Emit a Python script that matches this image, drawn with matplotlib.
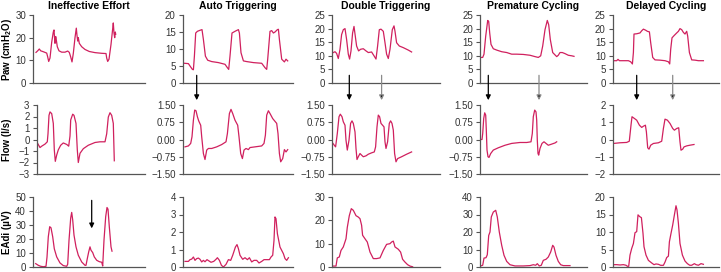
import numpy as np
import matplotlib.pyplot as plt

plt.rcParams['font.family'] = ['Liberation Sans', 'DejaVu Sans']
plt.rcParams['mathtext.default'] = 'regular'

titles = ['Ineffective Effort', 'Auto Triggering', 'Double Triggering',
          'Premature Cycling', 'Delayed Cycling']
ylabels = ['Paw (cmH$_2$O)', 'Flow (l/s)', 'EAdi (\u00b5V)']

# ---- Ineffective Effort ----
ie_paw_t = [3, 4.7, 6.3, 7.7, 10.3, 13.7, 14.7, 15.7, 17, 18.7, 20.3, 21, 21.7, 22, 22.7, 23.3,
            24.3, 26, 28.7, 32, 34.7, 36.3, 37.7, 39, 40.3, 42, 43.3, 44, 44.7, 45.3, 46.3,
            48.7, 52, 56.3, 62, 68.7, 73, 73.7, 74.7, 76, 78, 79.7, 80.3, 81, 81.7, 82.3, 82.7]
ie_paw = [13.5, 14.2, 15, 14.2, 13.8, 13.2, 11.5, 9.5, 11, 18, 22.5, 23.4, 19, 17.5, 20.5, 19,
          16, 14.2, 13.6, 13.6, 14.1, 13.5, 11.5, 9.3, 13, 20, 24.2, 21, 18.5, 20, 17.5,
          16, 14.8, 13.9, 13.4, 13.1, 13, 11, 9.5, 10.5, 17, 24, 26.5, 22, 20, 22.5, 21.5]
ie_flow_t = [3, 4.7, 7, 8.7, 12, 14.3, 15, 16, 17, 18.7, 20.3, 21.3, 22.3, 23.7, 25.3, 27.7,
             30.3, 33.7, 35.7, 37, 37.7, 39.7, 41, 43, 44.3, 45.3, 47, 50.3, 55.3, 62, 67, 72,
             73.7, 75.3, 77, 78.7, 80.3, 81.3]
ie_flow = [-0.2, -0.35, -0.7, -0.58, -0.4, -0.2, 0.5, 2.1, 2.4, 2.25, 1.4, -0.9, -1.9, -1.35,
           -0.9, -0.5, -0.3, -0.43, -0.58, 0.3, 1.7, 2.2, 2.1, 1.4, -0.9, -2.0, -1.2, -0.8,
           -0.5, -0.26, -0.2, -0.2, 0.5, 1.95, 2.33, 2.1, 1.4, -1.85]
ie_eadi_t = [2.7, 5.3, 7.7, 10.3, 13, 14, 15.3, 16.7, 18, 19.7, 21.3, 23.7, 27, 30.3, 33.7,
             34.7, 36, 37.7, 38.7, 39.7, 41, 43, 45.3, 48.7, 52, 53, 54.3, 55.7, 57, 58,
             59.7, 61.3, 63.7, 66.3, 68.7, 69.7, 71, 72.7, 74, 75, 76.3, 78, 79]
ie_eadi = [2.4, 1.2, 0.5, 0.2, 0.5, 7, 21.6, 28.8, 28, 21.6, 13, 7.2, 2.9, 1, 0.5,
           2, 19, 35, 39, 33.6, 22.8, 14.4, 8.4, 3.6, 1.2, 1.2, 6, 10.8, 14.4, 12,
           10.3, 7.2, 4.8, 3.8, 3.4, 0.7, 19.2, 36, 42.5, 41.3, 28.8, 14.4, 11.3]

# ---- Auto Triggering ----
at_paw_t = [1.7, 5.7, 7.3, 9.7, 10.7, 11.7, 13, 14.7, 17.3, 19.3, 20.7, 22.7, 25, 29, 35.7,
            42.3, 44.7, 46, 47.3, 49.3, 52.3, 55.7, 56.7, 58.3, 60.7, 64, 70.7, 79, 82.3,
            84, 85, 87.3, 89, 90.7, 92.3, 94.7, 95.7, 96.7, 99, 101.7, 103.3, 105]
at_paw = [5.8, 5.7, 5, 4, 3.9, 7.9, 14.7, 15.2, 15.5, 15.7, 12.8, 7.9, 6.7, 6.3, 6,
          5.5, 4.5, 4, 7.9, 14.7, 15.2, 15.7, 14.7, 8.9, 6.5, 6.3, 6, 5.8, 4.5,
          4, 7, 15.2, 15.4, 14.7, 15, 15.7, 15.8, 12.8, 7, 6.2, 7, 6.5]
at_flow_t = [2.3, 5.7, 8, 9.3, 10.7, 12, 13.3, 14.7, 16, 18, 19, 20.7, 22.3, 24, 25.7, 29,
             34, 39, 43.3, 44.7, 46.7, 48.3, 50, 52.3, 55, 56.3, 58, 59.7, 61.3, 63.3, 65.7,
             67.3, 72.3, 79, 81.3, 82.7, 84, 85.7, 87.3, 90, 94, 95.3, 96.7, 98, 100, 101.7,
             103.3, 105]
at_flow = [-0.32, -0.28, -0.17, 0.12, 0.84, 1.28, 1.25, 0.99, 0.81, 0.62, 0.12, -0.61, -0.87,
           -0.46, -0.39, -0.39, -0.32, -0.22, -0.1, 0.26, 1.13, 1.31, 1.13, 0.84, 0.62, 0.12,
           -0.61, -0.83, -0.46, -0.39, -0.44, -0.35, -0.32, -0.28, -0.17, 0.19, 1.06, 1.25,
           1.13, 0.91, 0.7, 0.26, -0.61, -0.97, -0.83, -0.44, -0.54, -0.44]
at_eadi_t = [2.3, 5.7, 7.3, 9, 10.7, 12.3, 14, 15.7, 17.3, 19, 20.7, 22.3, 24.3, 28.3, 31,
             33.3, 34.7, 36.7, 38.7, 40.7, 43.3, 45.7, 48, 50, 52.7, 54.3, 55.7, 57.3, 60,
             62.3, 64.7, 66.7, 69, 71.3, 74, 76.3, 79, 81.3, 84, 86.7, 88.3, 90, 91.3, 92.3,
             93.3, 94.7, 97.3, 100.7, 102.3, 104, 105.7]
at_eadi = [0.32, 0.32, 0.42, 0.45, 0.57, 0.38, 0.48, 0.51, 0.44, 0.29, 0.38, 0.3, 0.42, 0.27,
           0.32, 0.44, 0.53, 0.38, 0.1, 0, 0.15, 0.42, 0.38, 0.67, 1.14, 1.28, 1.05, 0.67,
           0.44, 0.53, 0.42, 0.53, 0.29, 0.38, 0.38, 0.23, 0.32, 0.42, 0.42, 0.42, 0.57, 0.67,
           1.52, 2.86, 2.76, 1.9, 1.14, 0.76, 0.48, 0.38, 0.53]

# ---- Double Triggering ----
dt_paw_t = [1, 2.7, 4.3, 6, 7.7, 9.3, 11, 12.7, 14.3, 16, 17.3, 18.7, 20.3, 21.7, 23, 24.3,
            26.3, 28.3, 31, 33.7, 36, 39.3, 41.7, 43.7, 45.3, 47, 48.7, 51, 52.7, 54.3, 56,
            57.7, 60, 61.7, 62.7, 64.3, 67, 71, 76, 79.3]
dt_paw = [11.2, 11.5, 10.9, 9, 12.4, 17.8, 19.6, 20, 16, 10.6, 8.8, 11.8, 18.4, 20.8, 17.2,
          13.6, 11.8, 12.4, 12.6, 11.8, 11.2, 11.4, 10, 8.8, 13.6, 19.6, 19.8, 19, 14.8, 10.6,
          9, 12.4, 19.6, 21, 19, 14.8, 13.6, 13, 12.1, 11.4]
dt_flow_t = [0.3, 2, 3.3, 5, 6.7, 8, 9.7, 11, 12.7, 13.7, 15, 16.7, 18.3, 19.7, 21, 22.7, 23.7,
             24.7, 26, 27.7, 29.3, 31, 33.7, 36, 39.3, 42, 43.3, 44.7, 46, 47.3, 48.7, 50.3,
             51.7, 52.7, 53.7, 55.3, 57, 58.3, 59.7, 61, 62.3, 63.7, 65.3, 69.3, 74.3, 79.3]
dt_flow = [-0.15, -0.25, -0.32, 0.26, 0.99, 1.1, 0.99, 0.77, 0.62, -0.03, -0.46, -0.03, 0.7,
           0.81, 0.7, 0.33, -0.39, -0.87, -0.75, -0.61, -0.68, -0.75, -0.71, -0.64, -0.58,
           -0.54, -0.32, 0.55, 1.06, 0.99, 0.7, 0.62, 0.55, -0.1, -0.39, -0.1, 0.7, 0.81, 0.7,
           0.41, -0.61, -0.97, -0.83, -0.75, -0.64, -0.54]
dt_eadi_t = [1, 3.7, 5, 7, 8.7, 11, 13.7, 15, 17, 19, 21, 23.7, 26, 27.7, 29.3, 30.3, 32.7,
             35, 37.7, 41, 44.3, 47.7, 51, 54.3, 57.7, 59.3, 61, 62.7, 66, 68.3, 70.3, 72.7,
             75.3, 77.7, 80.3]
dt_eadi = [0.4, 0.4, 3.9, 4.3, 7.1, 8.6, 12.1, 17, 22, 25, 24.3, 22, 21.4, 20.7, 17.9, 13.6,
           12.1, 10.7, 6.4, 3.6, 3.6, 3.9, 7.1, 9.7, 10, 10.7, 11.1, 8.6, 7.6, 6.4, 3.3, 2.1,
           1, 0.4, 0.1]

# ---- Premature Cycling ----
pc_paw_t = [0.7, 2.7, 4, 5.7, 7.7, 8.7, 9.7, 11, 13.3, 16.7, 21.7, 26.7, 31.7, 36.7, 43.3,
            50, 55, 58.3, 60.7, 62.7, 65, 67.3, 68.7, 70.3, 72.7, 76.7, 78.3, 80, 82.3, 85,
            88.3, 91.7, 94]
pc_paw = [9.4, 9.4, 10.6, 17.2, 23, 22.6, 18.4, 14.2, 12.6, 12.1, 11.5, 11.2, 10.6, 10.6,
          10.5, 10.2, 9.7, 9.4, 10, 13.6, 19.6, 23, 21.4, 16, 11.2, 9.7, 10.2, 11.2, 11.2,
          10.8, 10.2, 10, 9.8]
pc_flow_t = [1, 2, 2.7, 3.7, 4.7, 5.7, 6.3, 7, 8, 9, 10.7, 13.3, 18.3, 25, 31.7, 40, 46.7,
             51, 52.3, 53.3, 54.7, 56, 56.7, 57.3, 58, 58.7, 60, 62, 64, 66, 68.3, 71.7, 75,
             76.7]
pc_flow = [0, 0, 0.26, 0.91, 1.16, 1.06, 0.41, -0.46, -0.75, -0.78, -0.61, -0.46, -0.36,
           -0.25, -0.17, -0.13, -0.13, -0.1, 0.26, 0.99, 1.28, 1.2, 0.84, -0.03, -0.61, -0.68,
           -0.39, -0.17, -0.1, -0.17, -0.25, -0.2, -0.15, -0.1]
pc_eadi_t = [0.7, 2.7, 4, 6, 7.3, 8.7, 10, 11.3, 13.3, 15.7, 17.3, 19.3, 21.7, 24, 26.7, 30,
             35, 43.3, 50, 53.3, 55.7, 57.3, 59.3, 61.3, 63.3, 66, 68.3, 70.7, 72.7, 74, 76,
             78.3, 80.7, 83.3, 90]
pc_eadi = [0.6, 1, 5.1, 5.3, 7, 18, 20, 28.6, 31.4, 32.4, 28.6, 20, 12.4, 6.7, 3.2, 1.3, 0.6,
           0.6, 0.8, 1.3, 1, 1.9, 0.6, 1, 3.8, 4.4, 5.7, 8.6, 12.4, 11.4, 6.7, 3.2, 1.3, 0.8,
           0.8]

# ---- Delayed Cycling ----
dc_paw_t = [0.7, 4, 5.3, 6.7, 10.7, 15.7, 18, 19.7, 20.7, 21.3, 24, 27.3, 29, 30.7, 33,
            34.7, 36.7, 38, 40, 42.3, 47.3, 52.3, 55.7, 57, 58, 59.3, 61.3, 64, 65.7, 67.3,
            69, 70.7, 72.3, 74, 75, 76.7, 79, 82.3, 85.7, 90.7]
dc_paw = [8.2, 8.2, 8.7, 8.2, 8.2, 8.2, 7.8, 7, 11.2, 18, 18.1, 18.4, 19.2, 19.8, 19.4, 19,
          18.8, 14.8, 9.4, 8.5, 8.4, 8.2, 7.8, 7, 12.4, 16.6, 17.4, 18.4, 19, 20, 19.6, 18.6,
          18, 19, 17.2, 11.2, 8.5, 8.4, 8.2, 8.2]
dc_flow_t = [0.6, 7.3, 14, 16.6, 18.3, 19.3, 21.7, 24, 26.7, 29, 30.7, 32.7, 33.7, 35, 36.3,
             38, 40.7, 45.7, 49, 50.7, 52.3, 54.7, 57.3, 60, 61.7, 64, 66, 67.3, 68.3, 70,
             71.3, 74, 77.3, 81.3]
dc_flow = [-0.23, -0.19, -0.17, -0.1, 0.83, 1.32, 1.22, 1.12, 0.83, 0.7, 0.77, 0.83, 0.44,
           -0.48, -0.56, -0.33, -0.23, -0.19, -0.1, 0.64, 1.18, 1.12, 0.93, 0.64, 0.54, 0.64,
           0.68, -0.14, -0.62, -0.56, -0.43, -0.37, -0.33, -0.29]
dc_eadi_t = [0.7, 4, 7.3, 10.7, 13.3, 14.7, 16, 17.3, 19, 20.7, 22.3, 24, 25.3, 27, 28.7,
             30.3, 31.3, 33.3, 35.7, 39, 41.3, 43.3, 45.7, 48, 50.7, 52.3, 54, 55.7, 56.7,
             58.3, 60, 61.7, 63.3, 64.3, 65.7, 67.3, 69.7, 72.3, 74.7, 77, 79, 81.7, 83.3,
             85.7, 88.3, 90.7]
dc_eadi = [0.67, 0.67, 0.58, 0.67, 0.5, 0.2, 0.2, 3.4, 5.3, 6.7, 9.8, 10.1, 14.9, 14.4, 14.1,
           9.6, 5.8, 3.4, 1.9, 1.15, 0.67, 0.87, 0.77, 0.48, 0.48, 1.4, 2.7, 3.1, 7.2, 9.6,
           12, 14.9, 17.5, 16.3, 12.5, 6.7, 3.4, 1.7, 0.96, 0.5, 0.5, 0.96, 0.67, 0.5, 0.96,
           0.77]

traces = [
    [(ie_paw_t, ie_paw), (ie_flow_t, ie_flow), (ie_eadi_t, ie_eadi)],
    [(at_paw_t, at_paw), (at_flow_t, at_flow), (at_eadi_t, at_eadi)],
    [(dt_paw_t, dt_paw), (dt_flow_t, dt_flow), (dt_eadi_t, dt_eadi)],
    [(pc_paw_t, pc_paw), (pc_flow_t, pc_flow), (pc_eadi_t, pc_eadi)],
    [(dc_paw_t, dc_paw), (dc_flow_t, dc_flow), (dc_eadi_t, dc_eadi)],
]

yticks = [
    [[0, 10, 20, 30], [-3, -2, -1, 0, 1, 2, 3], [0, 10, 20, 30, 40, 50]],
    [[0, 5, 10, 15, 20], [-1.5, -0.75, 0, 0.75, 1.5], [0, 1, 2, 3, 4]],
    [[0, 5, 10, 15, 20, 25], [-1.5, -0.75, 0, 0.75, 1.5], [0, 10, 20, 30]],
    [[0, 5, 10, 15, 20, 25], [-1.5, -0.75, 0, 0.75, 1.5], [0, 10, 20, 30, 40]],
    [[0, 5, 10, 15, 20, 25], [-2, -1, 0, 1, 2], [0, 5, 10, 15, 20]],
]
flow_labels = ['\u22121.50', '\u22120.75', '0.00', '0.75', '1.50']

# arrows between Paw and Flow: (column, time, shaft colour)
arrows = [(1, 14, 'k'), (2, 17, 'k'), (2, 49.3, '#8a8a8a'), (3, 8.3, 'k'),
          (3, 59, '#8a8a8a'), (4, 24, 'k'), (4, 60, '#8a8a8a')]

W, H = 721, 272
cols_px = [(33, 145), (182.7, 293), (332.3, 440), (480, 587), (612.7, 719)]
rows_px = [(15, 83), (105, 174), (197, 267)]
line_c = '#d0205e'
spine_c = '#555555'

fig = plt.figure(figsize=(W / 100, H / 100), dpi=100)
axes = {}
for c, (l, r) in enumerate(cols_px):
    for rr, (t, b) in enumerate(rows_px):
        shift = 3.5 if (c == 0 and rr == 1) else 0
        ax = fig.add_axes([(l + shift) / W, 1 - b / H, (r - l - shift) / W, (b - t) / H])
        axes[(c, rr)] = ax
        tx, ty = traces[c][rr]
        ax.plot(tx, ty, color=line_c, lw=0.9)
        ax.set_xlim(shift, r - l)
        yt = yticks[c][rr]
        ax.set_ylim(yt[0], yt[-1])
        ax.set_yticks(yt)
        if rr == 1 and c in (1, 2, 3):
            ax.set_yticklabels(flow_labels)
        ax.set_xticks([])
        for s in ('top', 'right'):
            ax.spines[s].set_visible(False)
        for s in ('left', 'bottom'):
            ax.spines[s].set_color(spine_c)
            ax.spines[s].set_linewidth(0.9)
        ax.tick_params(axis='y', labelsize=7, length=3, width=0.8, color=spine_c,
                       pad=2, labelcolor='#333333')
        ax.patch.set_visible(False)
        if rr == 0:
            ax.set_title(titles[c], fontsize=7.5, fontweight='bold', pad=4)

# y labels placed at fixed x so they line up like the reference
for rr, (t, b) in enumerate(rows_px):
    fig.text(7.5 / W, 1 - (t + b) / 2 / H, ylabels[rr], rotation=90, ha='center',
             va='center', fontsize=7, fontweight='bold')

for c, tx, col in arrows:
    ax = axes[(c, 1)]
    ax.annotate('', xy=(tx, 1.07), xycoords=('data', 'axes fraction'),
                xytext=(tx, 1.43), textcoords=('data', 'axes fraction'),
                arrowprops=dict(arrowstyle='-|>', ec=col, fc='k', lw=0.9,
                                mutation_scale=7, shrinkA=0, shrinkB=0),
                annotation_clip=False)

# arrow inside Ineffective Effort EAdi
axes[(0, 2)].annotate('', xy=(58.7, 27.6), xytext=(58.7, 47.6),
                      arrowprops=dict(arrowstyle='-|>', color='k', lw=0.9,
                                      mutation_scale=7, shrinkA=0, shrinkB=0))

fig.savefig('out.png', dpi=100)
